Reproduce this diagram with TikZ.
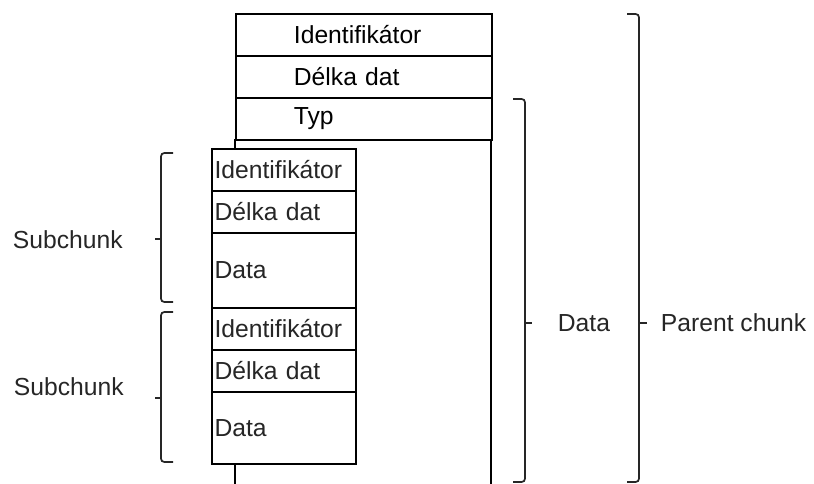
\documentclass[tikz,border=0pt]{standalone}
\usepackage{fontspec}
\setmainfont{Liberation Sans}

\begin{document}
\begin{tikzpicture}[x=0.75pt,y=-0.75pt,line width=1.4pt,
    font=\fontsize{18.5}{20}\selectfont,
    prow/.style={draw=black,fill=white,anchor=north west,minimum width=192pt,minimum height=31.5pt,
        inner xsep=43.5pt,inner ysep=0pt,text width=105pt,align=left},
    srow/.style={draw=black,fill=white,anchor=north west,minimum width=108pt,minimum height=31.5pt,
        inner xsep=1.8pt,inner ysep=0pt,text width=104pt,align=left,text=black!85},
    lbl/.style={anchor=west,inner sep=0pt,text=black!85},
    brc/.style={draw=black!85,line width=1.3pt,rounded corners=2.5pt}]
    \useasboundingbox (0,0) rectangle (814,484);
    % parent chunk
    \draw (235,139) -- (235,484);
    \draw (491,139) -- (491,484);
    \node[prow] (pid) at (235,13) {Identifikátor};
    \node[prow] (plen) at (235,55) {Délka dat};
    \node[prow] (ptyp) at (235,97) {Typ};
    % subchunks
    \node[srow] (sid1) at (211,148) {Identifikátor};
    \node[srow] (slen1) at (211,190) {Délka dat};
    \node[srow,minimum height=56.25pt] (sdat1) at (211,232) {Data};
    \node[srow] (sid2) at (211,307) {Identifikátor};
    \node[srow] (slen2) at (211,349) {Délka dat};
    \node[srow,minimum height=54pt] (sdat2) at (211,391) {Data};
    % braces
    \draw[brc] (173,153) -- (161,153) -- (161,302) -- (173,302);
    \draw[brc] (161,239) -- (155,239);
    \draw[brc] (173,312) -- (161,312) -- (161,462) -- (173,462);
    \draw[brc] (161,398) -- (155,398);
    \draw[brc] (513,99) -- (525,99) -- (525,482) -- (513,482);
    \draw[brc] (525,323) -- (532,323);
    \draw[brc] (627,14) -- (639,14) -- (639,482) -- (627,482);
    \draw[brc] (639,323) -- (647,323);
    % labels
    \node[lbl] (sub1) at (12,240) {Subchunk};
    \node[lbl] (sub2) at (13,387) {Subchunk};
    \node[lbl] (data) at (557,323) {Data};
    \node[lbl] (parent) at (660,323) {Parent chunk};
\end{tikzpicture}
\end{document}
